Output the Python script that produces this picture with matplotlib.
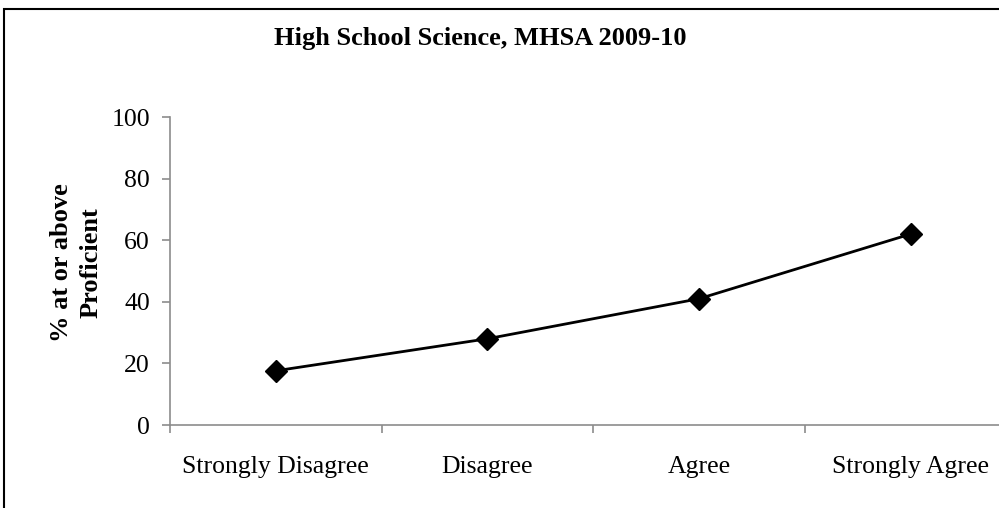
import matplotlib
matplotlib.use("Agg")
import matplotlib.pyplot as plt
from matplotlib.patches import Rectangle

categories = ["Strongly Disagree", "Disagree", "Agree", "Strongly Agree"]
pct_proficient = [17.6, 28, 41, 62]
y_ticks = [0, 20, 40, 60, 80, 100]

plt.rcParams["font.family"] = ["Liberation Serif", "DejaVu Serif"]

W, H = 999, 508
fig = plt.figure(figsize=(W / 100, H / 100), dpi=100)

# plot area in pixel coordinates (left, top, right, bottom)
px_l, px_t, px_r, px_b = 170, 117, 1016.5, 425
ax = fig.add_axes([px_l / W, 1 - px_b / H, (px_r - px_l) / W, (px_b - px_t) / H])

x = list(range(len(categories)))
ax.plot(x, pct_proficient, color="black", lw=2.0, marker="D", ms=11,
        markerfacecolor="black", markeredgecolor="black", clip_on=False)

ax.set_xlim(-0.5, len(categories) - 0.5)
ax.set_ylim(0, 100)
ax.set_yticks(y_ticks)
ax.set_yticklabels([str(v) for v in y_ticks], fontsize=18.5)

# category separators as ticks, labels centered between them
ax.set_xticks([i - 0.5 for i in range(len(categories) + 1)])
ax.set_xticklabels([])
ax.set_xticks(x, minor=True)
ax.set_xticklabels(categories, minor=True, fontsize=18.5)
ax.tick_params(axis="x", which="minor", length=0, pad=22.5)
ax.tick_params(axis="x", which="major", length=6, width=1.2, color="#8c8c8c")
ax.tick_params(axis="y", length=6, width=1.2, color="#8c8c8c", pad=8.5)

for side in ("top", "right"):
    ax.spines[side].set_visible(False)
for side in ("left", "bottom"):
    ax.spines[side].set_color("#8c8c8c")
    ax.spines[side].set_linewidth(1.2)

fig.text(480 / W, 1 - 38 / H, "High School Science, MHSA 2009-10",
         ha="center", va="center", fontsize=19, fontweight="bold")
fig.text(76 / W, 1 - 263 / H, "% at or above\nProficient", ha="center",
         va="center", rotation=90, fontsize=19, fontweight="bold",
         linespacing=1.35)

# chart frame
fig.add_artist(Rectangle((4 / W, -0.2), 1.2, (H - 9) / H + 0.2,
                         transform=fig.transFigure, fill=False,
                         edgecolor="black", lw=1.5))

fig.savefig("out.png", dpi=100)
